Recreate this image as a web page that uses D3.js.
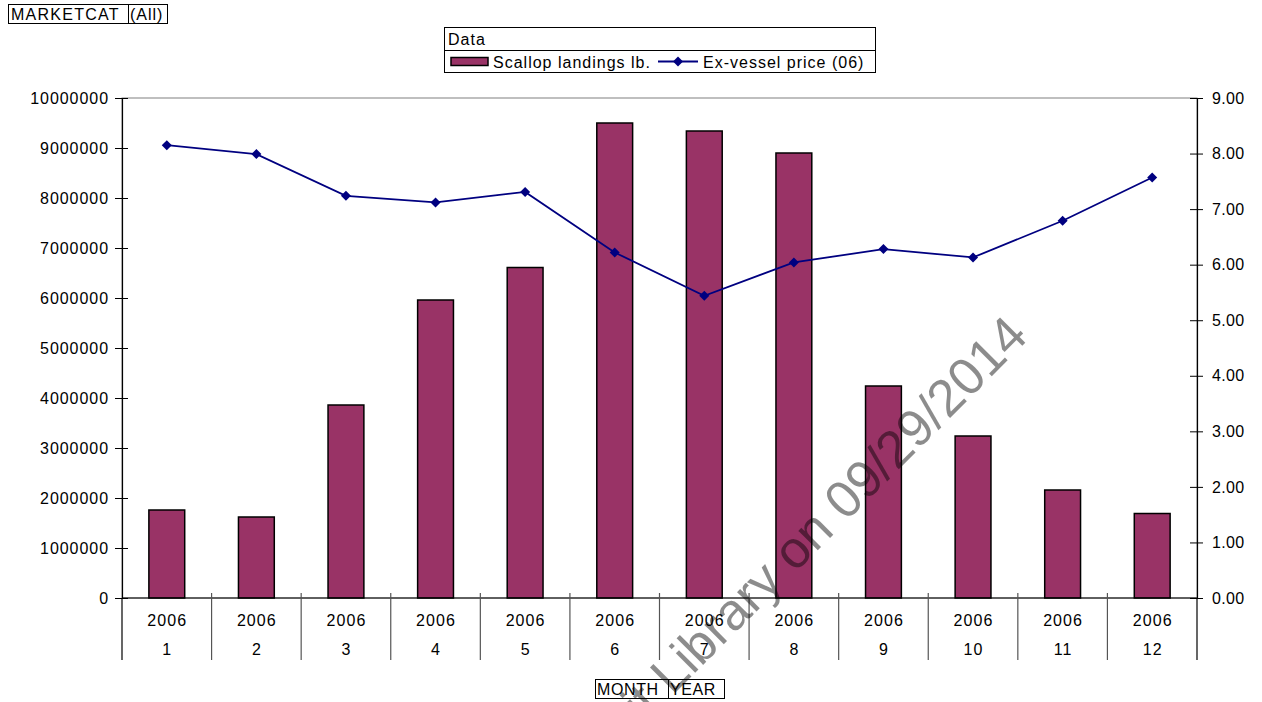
<!DOCTYPE html>
<html>
<head>
<meta charset="utf-8">
<script src="https://cdn.jsdelivr.net/npm/d3@7"></script>
<style>
  body { margin: 0; background: #fff; }
  svg { display: block; }
  text { font-family: "Liberation Sans", Arial, sans-serif; }
</style>
</head>
<body>
<svg id="chart" width="1262" height="702"></svg>
<script>
// values
var months = ["1", "2", "3", "4", "5", "6", "7", "8", "9", "10", "11", "12"];
var years = ["2006", "2006", "2006", "2006", "2006", "2006", "2006", "2006", "2006", "2006", "2006", "2006"];
var landings = [1760000, 1620000, 3860000, 5960000, 6610000, 9500000, 9340000, 8900000, 4240000, 3240000, 2160000, 1690000];
var prices = [8.15, 7.99, 7.24, 7.12, 7.31, 6.22, 5.44, 6.04, 6.28, 6.13, 6.79, 7.57];
var leftTicks = [0, 1000000, 2000000, 3000000, 4000000, 5000000, 6000000, 7000000, 8000000, 9000000, 10000000];
var rightTicks = [0, 1, 2, 3, 4, 5, 6, 7, 8, 9];

const barColor = "#993366";
const lineColor = "#000080";
const plotL = 122, plotR = 1197, plotT = 98, plotB = 598;

var svg = d3.select("#chart");

var x = d3.scaleBand().domain(months).range([plotL, plotR])
    .paddingInner(0.6).paddingOuter(0.3);
var xCat = d3.scaleBand().domain(months).range([plotL, plotR]);
var yL = d3.scaleLinear().domain([0, 10000000]).range([plotB, plotT]);
var yR = d3.scaleLinear().domain([0, 9]).range([plotB, plotT]);

// plot area border (only the top shows)
svg.append("rect")
    .attr("x", plotL).attr("y", plotT)
    .attr("width", plotR - plotL).attr("height", plotB - plotT)
    .attr("fill", "none").attr("stroke", "#808080").attr("stroke-width", 1);

// bars
svg.append("g").selectAll("rect")
    .data(landings)
    .join("rect")
    .attr("x", (d, i) => x(months[i]))
    .attr("y", d => yL(d))
    .attr("width", x.bandwidth())
    .attr("height", d => yL(0) - yL(d))
    .attr("fill", barColor)
    .attr("stroke", "#000")
    .attr("stroke-width", 1.5);

// left axis
var axL = svg.append("g")
    .attr("transform", "translate(" + plotL + ",0)")
    .call(d3.axisLeft(yL).tickValues(leftTicks).tickFormat(d3.format("d"))
          .tickSizeInner(7).tickSizeOuter(0).tickPadding(6));
axL.select(".domain").attr("stroke", "#000").attr("stroke-width", 1.2);
axL.selectAll(".tick line").attr("x2", 6).attr("x1", -7).attr("stroke", "#000");
axL.selectAll(".tick text")
    .attr("font-size", 16).attr("letter-spacing", 0.95).attr("fill", "#000")
    .attr("font-family", "Liberation Sans, Arial, sans-serif");

// right axis
var axR = svg.append("g")
    .attr("transform", "translate(" + plotR + ",0)")
    .call(d3.axisRight(yR).tickValues(rightTicks).tickFormat(d3.format(".2f"))
          .tickSizeInner(6).tickSizeOuter(0).tickPadding(9));
axR.select(".domain").attr("stroke", "#000").attr("stroke-width", 1.2);
axR.selectAll(".tick line").attr("x1", -7).attr("x2", 6).attr("stroke", "#000");
axR.selectAll(".tick text")
    .attr("font-size", 16).attr("letter-spacing", 0.3).attr("fill", "#000")
    .attr("font-family", "Liberation Sans, Arial, sans-serif");

// x axis line
svg.append("line")
    .attr("x1", plotL).attr("x2", plotR)
    .attr("y1", plotB).attr("y2", plotB)
    .attr("stroke", "#000").attr("stroke-width", 1.2);

// category dividers
var edges = months.map(m => xCat(m)).concat([plotR]);
svg.append("g").selectAll("line")
    .data(edges)
    .join("line")
    .attr("x1", d => d).attr("x2", d => d)
    .attr("y1", (d, i) => (i === 0 || i === edges.length - 1) ? plotB : plotB - 5)
    .attr("y2", 660)
    .attr("stroke", (d, i) => (i === 0 || i === edges.length - 1) ? "#000" : "#555")
    .attr("stroke-width", 1.2);

// category labels (year / month)
var cats = svg.append("g").attr("font-size", 16).attr("letter-spacing", 1.1)
    .attr("text-anchor", "middle").attr("fill", "#000");
cats.selectAll("text.yr")
    .data(years)
    .join("text").attr("class", "yr")
    .attr("x", (d, i) => xCat(months[i]) + xCat.bandwidth() / 2 + 0.5)
    .attr("y", 625.5)
    .text(d => d);
cats.selectAll("text.mo")
    .data(months)
    .join("text").attr("class", "mo")
    .attr("x", d => xCat(d) + xCat.bandwidth() / 2 + 0.5)
    .attr("y", 655)
    .text(d => d);

// price line
var line = d3.line()
    .x((d, i) => x(months[i]) + x.bandwidth() / 2)
    .y(d => yR(d));
svg.append("path")
    .datum(prices)
    .attr("d", line)
    .attr("fill", "none")
    .attr("stroke", lineColor)
    .attr("stroke-width", 1.8);

var diamond = d3.symbol().type(d3.symbolDiamond2).size(64);
svg.append("g").selectAll("path")
    .data(prices)
    .join("path")
    .attr("transform", (d, i) => "translate(" + (x(months[i]) + x.bandwidth() / 2) + "," + yR(d) + ")")
    .attr("d", diamond)
    .attr("fill", lineColor);

// field buttons and legend
function box(g, x0, y0, w, h) {
    g.append("rect").attr("x", x0).attr("y", y0).attr("width", w).attr("height", h)
        .attr("fill", "#fff").attr("stroke", "#000").attr("stroke-width", 1);
}
var ui = svg.append("g").attr("font-size", 16).attr("letter-spacing", 1.0).attr("fill", "#000");

box(ui, 8.5, 4.5, 120, 19);
box(ui, 128.5, 4.5, 39, 19);
ui.append("text").attr("x", 11).attr("y", 19.5).attr("letter-spacing", 1.25).text("MARKETCAT");
ui.append("text").attr("x", 130).attr("y", 19.5).text("(All)");

box(ui, 595.5, 679.5, 73, 19);
box(ui, 668.5, 679.5, 56, 19);
ui.append("text").attr("x", 597).attr("y", 694.5).attr("letter-spacing", 0.6).text("MONTH");
ui.append("text").attr("x", 670).attr("y", 694.5).attr("letter-spacing", 0.6).text("YEAR");

box(ui, 444.5, 27.5, 431, 23);
box(ui, 444.5, 50.5, 431, 22);
ui.append("text").attr("x", 448).attr("y", 44.5).text("Data");
ui.append("rect").attr("x", 451).attr("y", 57.5).attr("width", 37).attr("height", 8)
    .attr("fill", barColor).attr("stroke", "#000").attr("stroke-width", 1.5);
ui.append("text").attr("x", 493).attr("y", 67.5).text("Scallop landings lb.");
ui.append("line").attr("x1", 658).attr("x2", 698).attr("y1", 61.5).attr("y2", 61.5)
    .attr("stroke", lineColor).attr("stroke-width", 1.8);
ui.append("path").attr("transform", "translate(678,61.5)").attr("d", diamond).attr("fill", lineColor);
ui.append("text").attr("x", 703).attr("y", 67.5).text("Ex-vessel price (06)");

// watermark
svg.append("text")
    .attr("transform", "translate(1030,338) rotate(-45)")
    .attr("text-anchor", "end")
    .attr("font-size", 52)
    .attr("fill", "#000")
    .attr("fill-opacity", 0.45)
    .text("it Library on 09/29/2014");
</script>
</body>
</html>
